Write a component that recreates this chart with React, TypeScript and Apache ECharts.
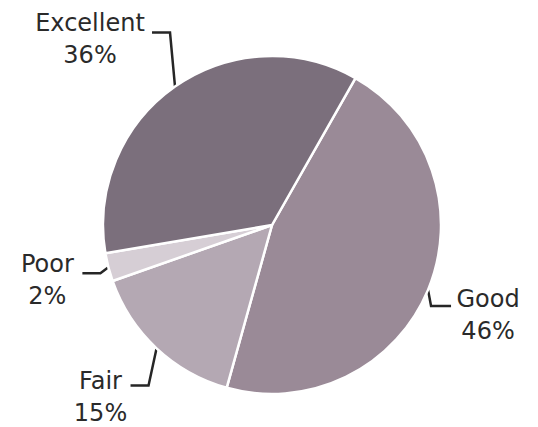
import React, { useEffect, useRef } from 'react';
import * as echarts from 'echarts';

const categories = ['Good', 'Fair', 'Poor', 'Excellent'];
const values = [46.1, 15.3, 2.7, 35.9];
const percentLabels = ['46%', '15%', '2%', '36%'];
const colors = ['#9a8a97', '#b4a8b3', '#d6ced5', '#7b6f7c'];

// leader-line styling per slice: bend offset from slice edge, horizontal run, label centre offset from line end
const leaderBend = [[3, 16], [-8, 37], [-8, 6], [-5, -54]];
const leaderRun = [20, -18, -18, -18];
const labelOffset = [[37, 9], [-30, 12], [-35, 7], [-62, 6]];

export default function App() {
  const ref = useRef<HTMLDivElement>(null);
  useEffect(() => {
    if (!ref.current) return;
    const chart = echarts.init(ref.current, undefined, { renderer: 'svg' });
    chart.setOption({
      animation: false,
      backgroundColor: '#ffffff',
      series: [
        {
          type: 'pie',
          center: [272, 225],
          radius: 169,
          startAngle: 60.4,
          clockwise: true,
          avoidLabelOverlap: false,
          data: categories.map((name, i) => ({
            name,
            value: values[i],
            itemStyle: { color: colors[i] },
          })),
          itemStyle: { borderColor: '#ffffff', borderWidth: 2.5 },
          label: {
            show: true,
            position: 'outside',
            formatter: (p: any) => `${p.name}\n${percentLabels[p.dataIndex]}`,
            fontFamily: 'DejaVu Sans',
            fontSize: 24,
            lineHeight: 32,
            color: '#2a2a2a',
          },
          labelLine: {
            show: true,
            length: 10,
            length2: 10,
            lineStyle: { color: '#262626', width: 2.5 },
          },
          labelLayout: (params: any) => {
            const i = params.dataIndex;
            const pts = params.labelLinePoints;
            if (!pts || !pts.length) return {};
            const p0 = pts[0];
            const bend = [p0[0] + leaderBend[i][0], p0[1] + leaderBend[i][1]];
            const end = [bend[0] + leaderRun[i], bend[1]];
            return {
              x: end[0] + labelOffset[i][0],
              y: end[1] + labelOffset[i][1],
              align: 'center',
              verticalAlign: 'middle',
              labelLinePoints: [p0, bend, end],
            };
          },
        },
      ],
    });
    return () => chart.dispose();
  }, []);
  return (
    <div
      ref={ref}
      style={{ position: 'fixed', left: 0, top: 0, width: 538, height: 427 }}
    />
  );
}
